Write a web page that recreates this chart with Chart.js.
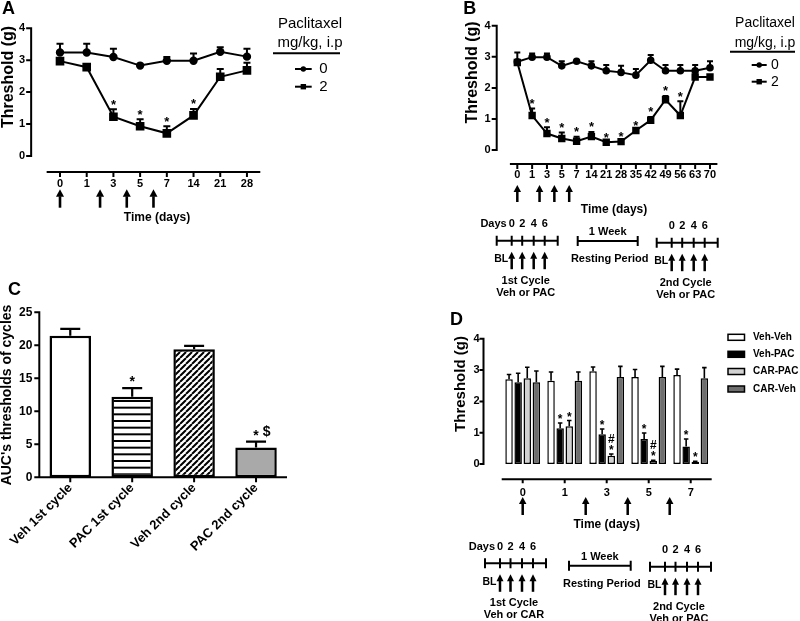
<!DOCTYPE html>
<html>
<head>
<meta charset="utf-8">
<script src="https://cdn.jsdelivr.net/npm/chart.js@4/dist/chart.umd.min.js"></script>
<style>
html, body { margin: 0; padding: 0; background: #fff; }
#wrap { position: relative; width: 800px; height: 621px; overflow: hidden; }
canvas { position: absolute; }
</style>
</head>
<body>
<div id="wrap">
  <canvas id="cA" width="400" height="280" style="left:0;top:0"></canvas>
  <canvas id="cB" width="400" height="310" style="left:400px;top:0"></canvas>
  <canvas id="cC" width="440" height="341" style="left:0;top:280px"></canvas>
  <canvas id="cD" width="360" height="311" style="left:440px;top:310px"></canvas>
</div>
<script>
// ---- data ----
// A: one cycle, days after first dose
var aDays = ['0', '1', '3', '5', '7', '14', '21', '28'];
var aVeh = [3.24, 3.24, 3.10, 2.83, 2.98, 2.98, 3.26, 3.11];
var aVehSem = [0.27, 0.27, 0.26, 0, 0.12, 0.23, 0.14, 0.25];
var aPac = [2.97, 2.78, 1.23, 0.93, 0.71, 1.27, 2.48, 2.68];
var aPacSem = [0, 0, 0.23, 0.22, 0.22, 0.20, 0.24, 0.24];
var aPacSig = ['', '', '*', '*', '*', '*', '', ''];

// B: two cycles
var bDays = ['0', '1', '3', '5', '7', '14', '21', '28', '35', '42', '49', '56', '63', '70'];
var bVeh = [2.84, 2.99, 2.99, 2.71, 2.86, 2.71, 2.55, 2.50, 2.41, 2.89, 2.55, 2.55, 2.55, 2.65];
var bVehSem = [0.30, 0.12, 0.12, 0.15, 0, 0.15, 0.19, 0.21, 0.20, 0.17, 0.19, 0.19, 0.19, 0.21];
var bPac = [2.82, 1.11, 0.53, 0.37, 0.28, 0.43, 0.25, 0.27, 0.63, 0.96, 1.62, 1.11, 2.35, 2.35];
var bPacSem = [0, 0.23, 0.20, 0.19, 0.15, 0.15, 0, 0, 0, 0.10, 0.12, 0.46, 0, 0];
var bPacSig = ['', '*', '*', '*', '*', '*', '*', '*', '*', '*', '*', '*', '', ''];

// dose days as category positions (0, 2, 4, 6 fall between measured days)
var doseIdx = [0, 1.5, 2.5, 3.5];

// C: AUC per cycle
var cGroups = ['Veh 1st cycle', 'PAC 1st cycle', 'Veh 2nd cycle', 'PAC 2nd cycle'];
var cAuc = [21.45, 12.2, 19.4, 4.5];
var cSem = [1.05, 1.3, 0.5, 0.9];
var cSig = ['', '*', '', '* $'];

// D: carvedilol pretreatment
var dDays = ['0', '1', '3', '5', '7'];
var dVehVeh = [2.71, 2.66, 2.96, 2.78, 2.84];
var dVehVehSem = [0.15, 0.28, 0.14, 0.24, 0.19];
var dVehPac = [2.61, 1.14, 0.95, 0.80, 0.56];
var dVehPacSem = [0.29, 0.17, 0.17, 0.19, 0.24];
var dCarPac = [2.74, 1.21, 0.26, 0.10, 0.07];
var dCarPacSem = [0.35, 0.18, 0.06, 0.02, 0.02];
var dCarVeh = [2.61, 2.66, 2.78, 2.78, 2.74];
var dCarVehSem = [0.36, 0.28, 0.34, 0.34, 0.34];
var dVehPacSig = ['', '*', '*', '*', '*'];
var dCarPacSig = ['', '*', '#\n*', '#\n*', '*'];

var FONT = "'Liberation Sans', Arial, Helvetica, sans-serif";
Chart.defaults.font.family = FONT;
Chart.defaults.color = '#000';

// ---- helpers ----
function txt(ctx, s, x, y, font, align, rot) {
  ctx.save();
  ctx.font = font;
  ctx.fillStyle = '#000';
  ctx.textAlign = align || 'center';
  ctx.textBaseline = 'middle';
  ctx.translate(x, y);
  if (rot) ctx.rotate(rot);
  ctx.fillText(s, 0, 0);
  ctx.restore();
}

function arrow(ctx, x, yTip, yEnd, hw, hh, lw) {
  ctx.beginPath();
  ctx.moveTo(x, yTip);
  ctx.lineTo(x - hw / 2, yTip + hh);
  ctx.lineTo(x + hw / 2, yTip + hh);
  ctx.closePath();
  ctx.fill();
  ctx.fillRect(x - lw / 2, yTip + hh - 0.5, lw, yEnd - yTip - hh + 0.5);
}

function drawMark(ctx, str, x, cy, size) {
  var cx = x - ctx.measureText(str[0]).width / 2;
  ctx.textAlign = 'left';
  for (var i = 0; i < str.length; i++) {
    var ch = str[i];
    if (ch === '*') {
      ctx.textBaseline = 'alphabetic';
      ctx.fillText(ch, cx, cy + 0.57 * size);
    } else if (ch !== ' ') {
      ctx.textBaseline = 'middle';
      ctx.fillText(ch, cx, cy);
    }
    cx += ctx.measureText(ch).width;
  }
}

// treatment schedule sketch under panels B and D
function cycle(ctx, x0, yl, days, line1, line2) {
  var xs = [x0 + 15, x0 + 25.5, x0 + 37, x0 + 48], len = 61;
  var f = 'bold 11px ' + FONT;
  ctx.save();
  ctx.strokeStyle = '#000'; ctx.fillStyle = '#000'; ctx.lineWidth = 2;
  ctx.beginPath();
  ctx.moveTo(x0, yl); ctx.lineTo(x0 + len, yl);
  [x0, x0 + len].concat(xs).forEach(function (x) { ctx.moveTo(x, yl - 5); ctx.lineTo(x, yl + 5); });
  ctx.stroke();
  ['0', '2', '4', '6'].forEach(function (d, i) {
    txt(ctx, d, xs[i], yl - 16.5, f);
    arrow(ctx, xs[i], yl + 11, yl + 28.5, 7, 7, 2.5);
  });
  if (days) txt(ctx, 'Days', x0 + 10, yl - 16.5, f, 'right');
  txt(ctx, 'BL', x0 + 4.5, yl + 18.5, 'bold 10.5px ' + FONT);
  txt(ctx, line1, x0 + 29, yl + 40, f);
  txt(ctx, line2, x0 + 29, yl + 52, f);
  ctx.restore();
}

function resting(ctx, x0, x1, yl) {
  var f = 'bold 11px ' + FONT;
  ctx.save();
  ctx.strokeStyle = '#000'; ctx.lineWidth = 2;
  ctx.beginPath();
  ctx.moveTo(x0, yl); ctx.lineTo(x1, yl);
  ctx.moveTo(x0, yl - 5); ctx.lineTo(x0, yl + 5);
  ctx.moveTo(x1, yl - 5); ctx.lineTo(x1, yl + 5);
  ctx.stroke();
  txt(ctx, '1 Week', (x0 + x1) / 2, yl - 9, f);
  txt(ctx, 'Resting Period', (x0 + x1) / 2 + 2, yl + 18, f);
  ctx.restore();
}

// legend with a header, as in panels A and B
function lineLegend(chart, o) {
  var ctx = chart.ctx;
  var f = o.size + 'px ' + FONT;
  txt(ctx, 'Paclitaxel', o.cx, o.y1, f);
  txt(ctx, 'mg/kg, i.p', o.cx, o.y2, f);
  ctx.save();
  ctx.strokeStyle = '#000'; ctx.fillStyle = '#000'; ctx.lineWidth = 2;
  ctx.beginPath(); ctx.moveTo(o.r0, o.ry); ctx.lineTo(o.r1, o.ry); ctx.stroke();
  chart.data.datasets.forEach(function (ds, i) {
    var y = o.rows[i], mx = (o.l0 + o.l1) / 2;
    ctx.beginPath(); ctx.moveTo(o.l0, y); ctx.lineTo(o.l1, y); ctx.stroke();
    if (ds.pointStyle === 'rect') ctx.fillRect(mx - 2.7, y - 2.7, 5.4, 5.4);
    else { ctx.beginPath(); ctx.arc(mx, y, 2.7, 0, Math.PI * 2); ctx.fill(); }
    txt(ctx, ds.label, o.tx, y, f);
  });
  ctx.restore();
}

// ---- shared plugins ----
var prismAxes = {
  id: 'prismAxes',
  afterDraw: function (chart, args, o) {
    var ctx = chart.ctx, a = chart.chartArea, ys = chart.scales.y, xs = chart.scales.x;
    var lw = 2, ax = a.left - o.yGap, by = a.bottom + o.xGap;
    ctx.save();
    ctx.strokeStyle = '#000'; ctx.lineWidth = lw;
    ctx.beginPath();
    ctx.moveTo(ax, ys.getPixelForValue(ys.max) - 1);
    ctx.lineTo(ax, ys.getPixelForValue(ys.min) + (o.xGap ? 1 : 0));
    ys.ticks.forEach(function (t) {
      var p = ys.getPixelForValue(t.value);
      ctx.moveTo(ax - o.tick, p); ctx.lineTo(ax, p);
    });
    ctx.moveTo(a.left - (o.xGap ? 0 : 1), by); ctx.lineTo(a.right, by);
    xs.ticks.forEach(function (t, i) {
      var p = xs.getPixelForTick(i);
      ctx.moveTo(p, by); ctx.lineTo(p, by + o.tick);
    });
    ctx.stroke();
    ctx.restore();
  }
};

var errBars = {
  id: 'errBars',
  beforeDatasetsDraw: function (chart, args, o) {
    var ctx = chart.ctx, ys = chart.scales.y;
    ctx.save();
    ctx.strokeStyle = '#000'; ctx.lineWidth = o.width;
    o.sets.forEach(function (s) {
      var meta = chart.getDatasetMeta(s.ds), vals = chart.data.datasets[s.ds].data;
      s.sem.forEach(function (e, i) {
        if (!e) return;
        var x = meta.data[i].x;
        var y0 = ys.getPixelForValue(vals[i]), y1 = ys.getPixelForValue(vals[i] + e);
        ctx.beginPath();
        ctx.moveTo(x, y0); ctx.lineTo(x, y1);
        ctx.moveTo(x - o.cap / 2, y1); ctx.lineTo(x + o.cap / 2, y1);
        ctx.stroke();
      });
    });
    ctx.restore();
  }
};

var sigMarks = {
  id: 'sigMarks',
  afterDatasetsDraw: function (chart, args, o) {
    var ctx = chart.ctx, ys = chart.scales.y;
    ctx.save();
    ctx.fillStyle = '#000';
    ctx.font = 'bold ' + o.size + 'px ' + FONT;
    o.sets.forEach(function (s) {
      var meta = chart.getDatasetMeta(s.ds), vals = chart.data.datasets[s.ds].data;
      s.text.forEach(function (t, i) {
        if (!t) return;
        var x = meta.data[i].x;
        var top = ys.getPixelForValue(vals[i] + (s.sem[i] || 0));
        var lines = t.split('\n'), c = top - o.gap;
        for (var k = lines.length - 1; k >= 0; k--) {
          drawMark(ctx, lines[k], x, c, o.size);
          c -= o.lineH;
        }
      });
    });
    ctx.restore();
  }
};

function tickFont(size) { return { family: FONT, size: size, weight: 'bold' }; }

function baseOptions(pad) {
  return {
    responsive: false, animation: false, devicePixelRatio: 1,
    layout: { padding: pad },
    plugins: { legend: { display: false }, tooltip: { enabled: false } }
  };
}

// ---- panel A ----
var optA = baseOptions({ left: 0, top: 19, right: 139.7, bottom: 84 });
optA.plugins.prismAxes = { yGap: 15.5, xGap: 16, tick: 5 };
optA.plugins.errBars = { width: 2, cap: 7, sets: [{ ds: 0, sem: aVehSem }, { ds: 1, sem: aPacSem }] };
optA.plugins.sigMarks = { size: 13, gap: 8, lineH: 9, sets: [{ ds: 1, sem: aPacSem, text: aPacSig }] };
optA.scales = {
  x: { type: 'category', offset: true, grid: { display: false, drawTicks: false }, border: { display: false },
       ticks: { padding: 21.4, font: tickFont(11), autoSkip: false, maxRotation: 0 },
       afterFit: function (s) { s.height = 40; } },
  y: { min: 0, max: 4, grid: { display: false, drawTicks: false }, border: { display: false },
       ticks: { stepSize: 1, padding: 21.6, font: tickFont(11) },
       afterFit: function (s) { s.width = 46.65; } }
};

new Chart(document.getElementById('cA'), {
  type: 'line',
  data: {
    labels: aDays,
    datasets: [
      { label: '0', data: aVeh, borderColor: '#000', backgroundColor: '#000', borderWidth: 2,
        pointStyle: 'circle', pointRadius: 3.2 },
      { label: '2', data: aPac, borderColor: '#000', backgroundColor: '#000', borderWidth: 2,
        pointStyle: 'rect', pointRadius: 4.7 }
    ]
  },
  options: optA,
  plugins: [prismAxes, errBars, sigMarks, {
    id: 'decorA',
    afterDraw: function (chart) {
      var ctx = chart.ctx, xs = chart.scales.x;
      txt(ctx, 'A', 2, 9, 'bold 18px ' + FONT, 'left');
      txt(ctx, 'Threshold (g)', 8.5, 77, 'bold 16px ' + FONT, 'center', -Math.PI / 2);
      txt(ctx, 'Time (days)', 157, 218, 'bold 12px ' + FONT);
      ctx.save(); ctx.fillStyle = '#000';
      doseIdx.forEach(function (d) { arrow(ctx, xs.getPixelForValue(d), 189.3, 207.7, 8, 7.5, 2.6); });
      ctx.restore();
      lineLegend(chart, { size: 15, cx: 310, y1: 24.3, y2: 43.3, r0: 273, r1: 340, ry: 53.3,
        l0: 295, l1: 311.7, tx: 323.3, rows: [69, 86.7] });
    }
  }]
});

// ---- panel B ----
var optB = baseOptions({ left: 0, top: 18.3, right: 82.6, bottom: 120 });
optB.plugins.prismAxes = { yGap: 13.2, xGap: 14, tick: 5 };
optB.plugins.errBars = { width: 2, cap: 6, sets: [{ ds: 0, sem: bVehSem }, { ds: 1, sem: bPacSem }] };
optB.plugins.sigMarks = { size: 13, gap: 8, lineH: 9, sets: [{ ds: 1, sem: bPacSem, text: bPacSig }] };
optB.scales = {
  x: { type: 'category', offset: true, grid: { display: false, drawTicks: false }, border: { display: false },
       ticks: { padding: 18.4, font: tickFont(11), autoSkip: false, maxRotation: 0 },
       afterFit: function (s) { s.height = 40; } },
  y: { min: 0, max: 4, grid: { display: false, drawTicks: false }, border: { display: false },
       ticks: { stepSize: 1, padding: 19.2, font: tickFont(11) },
       afterFit: function (s) { s.width = 109.9; } }
};

new Chart(document.getElementById('cB'), {
  type: 'line',
  data: {
    labels: bDays,
    datasets: [
      { label: '0', data: bVeh, borderColor: '#000', backgroundColor: '#000', borderWidth: 2,
        pointStyle: 'circle', pointRadius: 2.8 },
      { label: '2', data: bPac, borderColor: '#000', backgroundColor: '#000', borderWidth: 2,
        pointStyle: 'rect', pointRadius: 3.8 }
    ]
  },
  options: optB,
  plugins: [prismAxes, errBars, sigMarks, {
    id: 'decorB',
    afterDraw: function (chart) {
      var ctx = chart.ctx, xs = chart.scales.x;
      txt(ctx, 'B', 63.3, 9, 'bold 18px ' + FONT, 'left');
      txt(ctx, 'Threshold (g)', 72.5, 72.5, 'bold 16px ' + FONT, 'center', -Math.PI / 2);
      txt(ctx, 'Time (days)', 214, 210, 'bold 12px ' + FONT);
      ctx.save(); ctx.fillStyle = '#000';
      doseIdx.forEach(function (d) { arrow(ctx, xs.getPixelForValue(d), 185, 202, 7.5, 7, 2.5); });
      ctx.restore();
      lineLegend(chart, { size: 14, cx: 365, y1: 23.3, y2: 43, r0: 330, r1: 395, ry: 51.7,
        l0: 351.7, l1: 366.7, tx: 375, rows: [65, 81.7] });
      cycle(ctx, 96.7, 240.7, true, '1st Cycle', 'Veh or PAC');
      resting(ctx, 177.7, 237.7, 241);
      cycle(ctx, 256.7, 242.7, false, '2nd Cycle', 'Veh or PAC');
    }
  }]
});

// ---- panel C ----
function hStripes() {
  var c = document.createElement('canvas'); c.width = 20; c.height = 20;
  var g = c.getContext('2d');
  g.fillStyle = '#fff'; g.fillRect(0, 0, 20, 20);
  g.fillStyle = '#000';
  [0, 6.67, 13.33].forEach(function (y) { g.fillRect(0, y, 20, 2); });
  return g.createPattern(c, 'repeat');
}
function dStripes() {
  var c = document.createElement('canvas'); c.width = 6; c.height = 6;
  var g = c.getContext('2d');
  g.fillStyle = '#fff'; g.fillRect(0, 0, 6, 6);
  g.strokeStyle = '#000'; g.lineWidth = 2;
  g.beginPath();
  [-6, 0, 6].forEach(function (k) { g.moveTo(k, 6); g.lineTo(k + 6, 0); });
  g.stroke();
  return g.createPattern(c, 'repeat');
}

var optC = baseOptions({ left: 0, top: 32.3, right: 153, bottom: 43.7 });
optC.plugins.prismAxes = { yGap: 0, xGap: 0, tick: 5 };
optC.plugins.errBars = { width: 2.2, cap: 20, sets: [{ ds: 0, sem: cSem }] };
optC.plugins.sigMarks = { size: 14, gap: 10, lineH: 10, sets: [{ ds: 0, sem: cSem, text: cSig }] };
optC.scales = {
  x: { type: 'category', offset: true, grid: { display: false, drawTicks: false }, border: { display: false },
       ticks: { padding: 3, font: tickFont(13), autoSkip: false, minRotation: 45, maxRotation: 45 },
       afterFit: function (s) { s.height = 100; } },
  y: { min: 0, max: 25, grid: { display: false, drawTicks: false }, border: { display: false },
       ticks: { stepSize: 5, padding: 7, font: tickFont(12) },
       afterFit: function (s) { s.width = 39.3; } }
};

new Chart(document.getElementById('cC'), {
  type: 'bar',
  data: {
    labels: cGroups,
    datasets: [{
      label: 'AUC', data: cAuc,
      backgroundColor: ['#fff', hStripes(), dStripes(), '#a9a9a9'],
      borderColor: '#000', borderWidth: 2.5, borderSkipped: false,
      barPercentage: 0.67, categoryPercentage: 1
    }]
  },
  options: optC,
  plugins: [prismAxes, errBars, sigMarks, {
    id: 'decorC',
    afterDraw: function (chart) {
      var ctx = chart.ctx;
      txt(ctx, 'C', 8, 10, 'bold 18px ' + FONT, 'left');
      txt(ctx, "AUC's thresholds of cycles", 7.5, 115, 'bold 14px ' + FONT, 'center', -Math.PI / 2);
    }
  }]
});

// ---- panel D ----
var optD = baseOptions({ left: 0, top: 17.5, right: 88.3, bottom: 117 });
optD.plugins.prismAxes = { yGap: 18.2, xGap: 15.3, tick: 4 };
optD.plugins.errBars = { width: 1.6, cap: 4.5, sets: [
  { ds: 0, sem: dVehVehSem }, { ds: 1, sem: dVehPacSem }, { ds: 2, sem: dCarPacSem }, { ds: 3, sem: dCarVehSem }] };
optD.plugins.sigMarks = { size: 12, gap: 6.6, lineH: 8, sets: [
  { ds: 1, sem: dVehPacSem, text: dVehPacSig }, { ds: 2, sem: dCarPacSem, text: dCarPacSig }] };
optD.scales = {
  x: { type: 'category', offset: true, grid: { display: false, drawTicks: false }, border: { display: false },
       ticks: { padding: 22.1, font: tickFont(11), autoSkip: false, maxRotation: 0 },
       afterFit: function (s) { s.height = 40; } },
  y: { min: 0, max: 4, grid: { display: false, drawTicks: false }, border: { display: false },
       ticks: { stepSize: 1, padding: 22.2, font: tickFont(11) },
       afterFit: function (s) { s.width = 61.7; } }
};

function dSet(label, data, fill) {
  return { label: label, data: data, backgroundColor: fill, borderColor: '#000', borderWidth: 1.5,
           borderSkipped: false, barPercentage: 0.82, categoryPercentage: 0.867 };
}

new Chart(document.getElementById('cD'), {
  type: 'bar',
  data: {
    labels: dDays,
    datasets: [
      dSet('Veh-Veh', dVehVeh, '#ffffff'),
      dSet('Veh-PAC', dVehPac, '#000000'),
      dSet('CAR-PAC', dCarPac, '#d2d2d2'),
      dSet('CAR-Veh', dCarVeh, '#6e6e6e')
    ]
  },
  options: optD,
  plugins: [prismAxes, errBars, sigMarks, {
    id: 'decorD',
    afterDraw: function (chart) {
      var ctx = chart.ctx, xs = chart.scales.x;
      txt(ctx, 'D', 10, 10, 'bold 18px ' + FONT, 'left');
      txt(ctx, 'Threshold (g)', 21, 74, 'bold 15px ' + FONT, 'center', -Math.PI / 2);
      txt(ctx, 'Time (days)', 166.7, 214.3, 'bold 12px ' + FONT);
      ctx.save(); ctx.fillStyle = '#000';
      doseIdx.forEach(function (d) { arrow(ctx, xs.getPixelForValue(d), 187, 205, 7.5, 7, 2.5); });
      ctx.restore();
      // legend
      var rows = [27.3, 44.3, 61.5, 79];
      chart.data.datasets.forEach(function (ds, i) {
        ctx.save();
        ctx.fillStyle = ds.backgroundColor; ctx.strokeStyle = '#000'; ctx.lineWidth = 1.5;
        ctx.fillRect(288, rows[i] - 3, 16.5, 6);
        ctx.strokeRect(288, rows[i] - 3, 16.5, 6);
        ctx.restore();
        txt(ctx, ds.label, 313, rows[i], 'bold 10px ' + FONT, 'left');
      });
      cycle(ctx, 45, 253.3, true, '1st Cycle', 'Veh or CAR');
      resting(ctx, 129, 190.7, 255.7);
      cycle(ctx, 210, 256.7, false, '2nd Cycle', 'Veh or PAC');
    }
  }]
});
</script>
</body>
</html>
